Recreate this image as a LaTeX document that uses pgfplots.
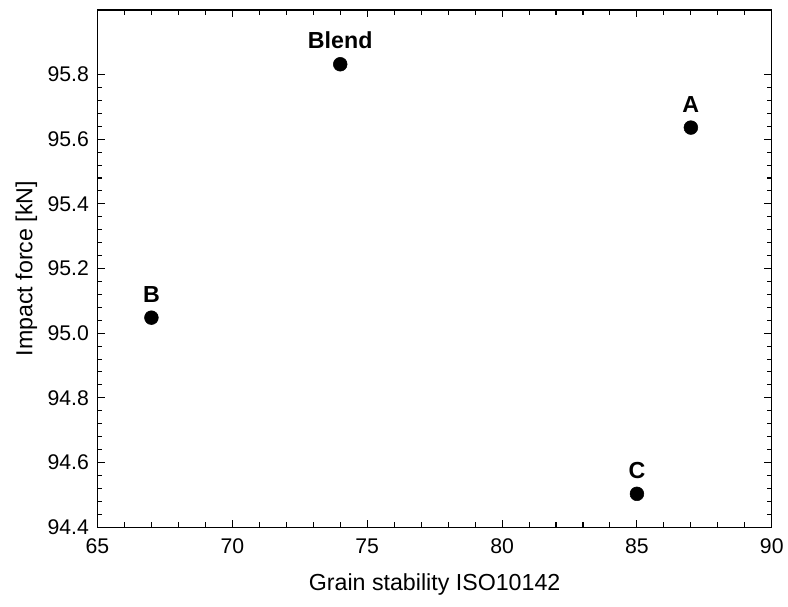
\documentclass[border=0pt]{standalone}
\usepackage{pgfplots}
\pgfplotsset{compat=1.18}
\usepackage{fontspec}
\setmainfont{Liberation Sans}
\begin{document}
\begin{tikzpicture}
\begin{axis}[
  scale only axis,
  width=508.5pt, height=390pt,
  xmin=65, xmax=90, ymin=94.4, ymax=96.0,
  xtick={65,70,...,90},
  ytick={94.4,94.6,...,95.81},
  minor x tick num=4,
  minor y tick num=4,
  tick align=inside,
  major tick length=5.5pt,
  minor tick length=3.5pt,
  tick style={black, line width=0.8pt},
  axis line style={line width=0.9pt},
  /pgf/number format/assume math mode=true,
  /pgf/number format/.cd, fixed, fixed zerofill, precision=1, /pgfplots/.cd,
  xticklabel style={/pgf/number format/precision=0, /pgf/number format/fixed zerofill=false, yshift=-5.5pt},
  yticklabel style={xshift=-3pt},
  tick label style={font=\fontsize{16}{19}\selectfont},
  xlabel={Grain stability ISO10142},
  ylabel={Impact force [kN]},
  label style={font=\fontsize{17.5}{21}\selectfont},
  xlabel style={yshift=-8pt},
  ylabel style={yshift=1pt},
  nodes near coords,
  point meta=explicit symbolic,
  nodes near coords style={font=\bfseries\fontsize{17.5}{21}\selectfont, anchor=south, yshift=8pt},
]
\addplot[only marks, mark=*, mark size=5.2pt, black] table[meta=lab] {
x y lab
87 95.636 A
74 95.832 Blend
67 95.048 B
85 94.503 C
};
\end{axis}
\path (current axis.north east) ++(0,7.5pt);
\path (current axis.south west) ++(-73.5pt,-60pt);
\path (current axis.south east) ++(9pt,0);
\end{tikzpicture}
\end{document}
